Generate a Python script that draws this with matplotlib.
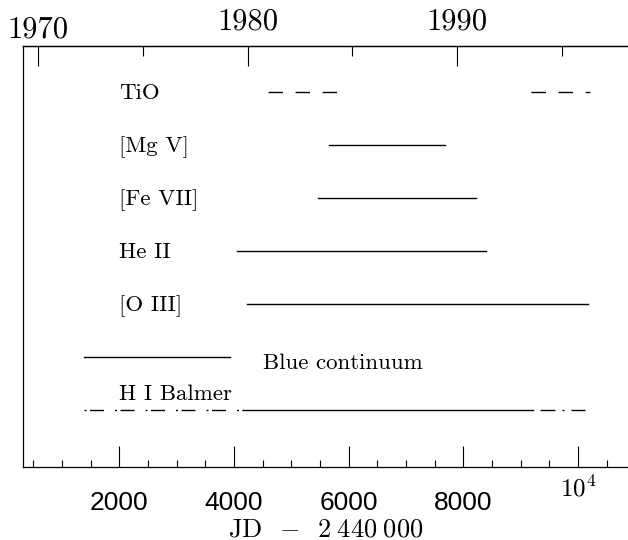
import matplotlib
matplotlib.use('Agg')
import matplotlib.pyplot as plt
from matplotlib.ticker import MultipleLocator, FixedLocator

plt.rcParams['font.family'] = ['cmr10', 'DejaVu Serif']
plt.rcParams['mathtext.fontset'] = 'cm'
plt.rcParams['axes.unicode_minus'] = False
plt.rcParams['lines.scale_dashes'] = False

# time ranges, JD - 2440000
tio = [[4590, 5800], [9180, 10210]]
mg5 = [5660, 7680]
fe7 = [5470, 8220]
he2 = [4060, 8390]
o3 = [4230, 10170]
blue = [1380, 3930]
balmer_dd1 = [1380, 4150]
balmer_solid = [4150, 9210]
balmer_dd2 = [9330, 10120]

labels = ['TiO', '[Mg V]', '[Fe VII]', 'He II', '[O III]']
label_rows = [7, 6, 5, 4, 3]

jd_ticks = [2000, 4000, 6000, 8000, 10000]
jd_ticklabels = ['2000', '4000', '6000', '8000', '']
years = [1970, 1980, 1990]
minor_years = [1975, 1985, 1995]


def jd2yr(x):
    return 1970 + (x - 587.5) / 365.25


def yr2jd(y):
    return (y - 1970) * 365.25 + 587.5


fig = plt.figure(figsize=(6.28, 5.4), dpi=100)
ax = fig.add_axes([22.8 / 628, (540 - 467.2) / 540, 1 - 22.8 / 628, (467.2 - 46) / 540])

lw = 1.0
ax.plot(tio[0], [7, 7], color='k', lw=lw, ls=(0, (10.4, 9.1)))
ax.plot(tio[1], [7, 7], color='k', lw=lw, ls=(0, (10.4, 9.1)))
ax.plot(mg5, [6, 6], color='k', lw=lw)
ax.plot(fe7, [5, 5], color='k', lw=lw)
ax.plot(he2, [4, 4], color='k', lw=lw)
ax.plot(o3, [3, 3], color='k', lw=lw)
ax.plot(blue, [2, 2], color='k', lw=lw)
ax.plot(balmer_dd1, [1, 1], color='k', lw=lw, ls=(0, (1.44, 2.52, 10.08, 7.92)))
ax.plot(balmer_solid, [1, 1], color='k', lw=lw)
ax.plot(balmer_dd2, [1, 1], color='k', lw=lw, ls=(0, (10.8, 5.04, 1.44, 5.04)))

fs = 16.5
for lab, r in zip(labels, label_rows):
    ax.text(2000, r - 0.14, lab, fontsize=fs, va='baseline', ha='left')
ax.text(4500, 2 - 0.23, 'Blue continuum', fontsize=fs, va='baseline', ha='left')
ax.text(2000, 1 + 0.19, 'H I Balmer', fontsize=fs, va='baseline', ha='left')

ax.set_xlim(317.4, 10872)
ax.set_ylim(-0.085, 7.862)
ax.set_yticks([])
ax.spines['right'].set_visible(False)
for s in ['left', 'top', 'bottom']:
    ax.spines[s].set_linewidth(0.9)

ax.set_xticks(jd_ticks)
ax.set_xticklabels(jd_ticklabels, fontfamily='Liberation Sans', fontsize=19)
ax.xaxis.set_minor_locator(MultipleLocator(500))
ax.tick_params(axis='x', which='major', direction='in', length=15.1, width=0.8, pad=17)
ax.tick_params(axis='x', which='minor', direction='in', length=5.0, width=0.8)
ax.text(10000, -29 / 421.2, r'$10^4$', transform=ax.get_xaxis_transform(),
        ha='center', va='baseline', fontsize=18)

ax.set_xlabel(r'$\mathrm{JD}\;\;-\;\;2\;440\;000$', fontsize=19)
ax.xaxis.set_label_coords(0.5, -0.12)

sec = ax.secondary_xaxis('top', functions=(jd2yr, yr2jd))
sec.set_xticks(years)
sec.set_xticklabels(['' for y in years])
sec.xaxis.set_minor_locator(FixedLocator(minor_years))
sec.tick_params(which='major', direction='in', length=14.4, width=0.8)
sec.tick_params(which='minor', direction='in', length=7.2, width=0.8)
sec.spines['top'].set_linewidth(0.9)

for yr in years:
    yy = 1.019 if yr == 1970 else 1.038
    ax.text(yr2jd(yr), yy, str(yr), transform=ax.get_xaxis_transform(),
            ha='center', va='baseline', fontsize=22)

fig.savefig('out.png', dpi=100)
